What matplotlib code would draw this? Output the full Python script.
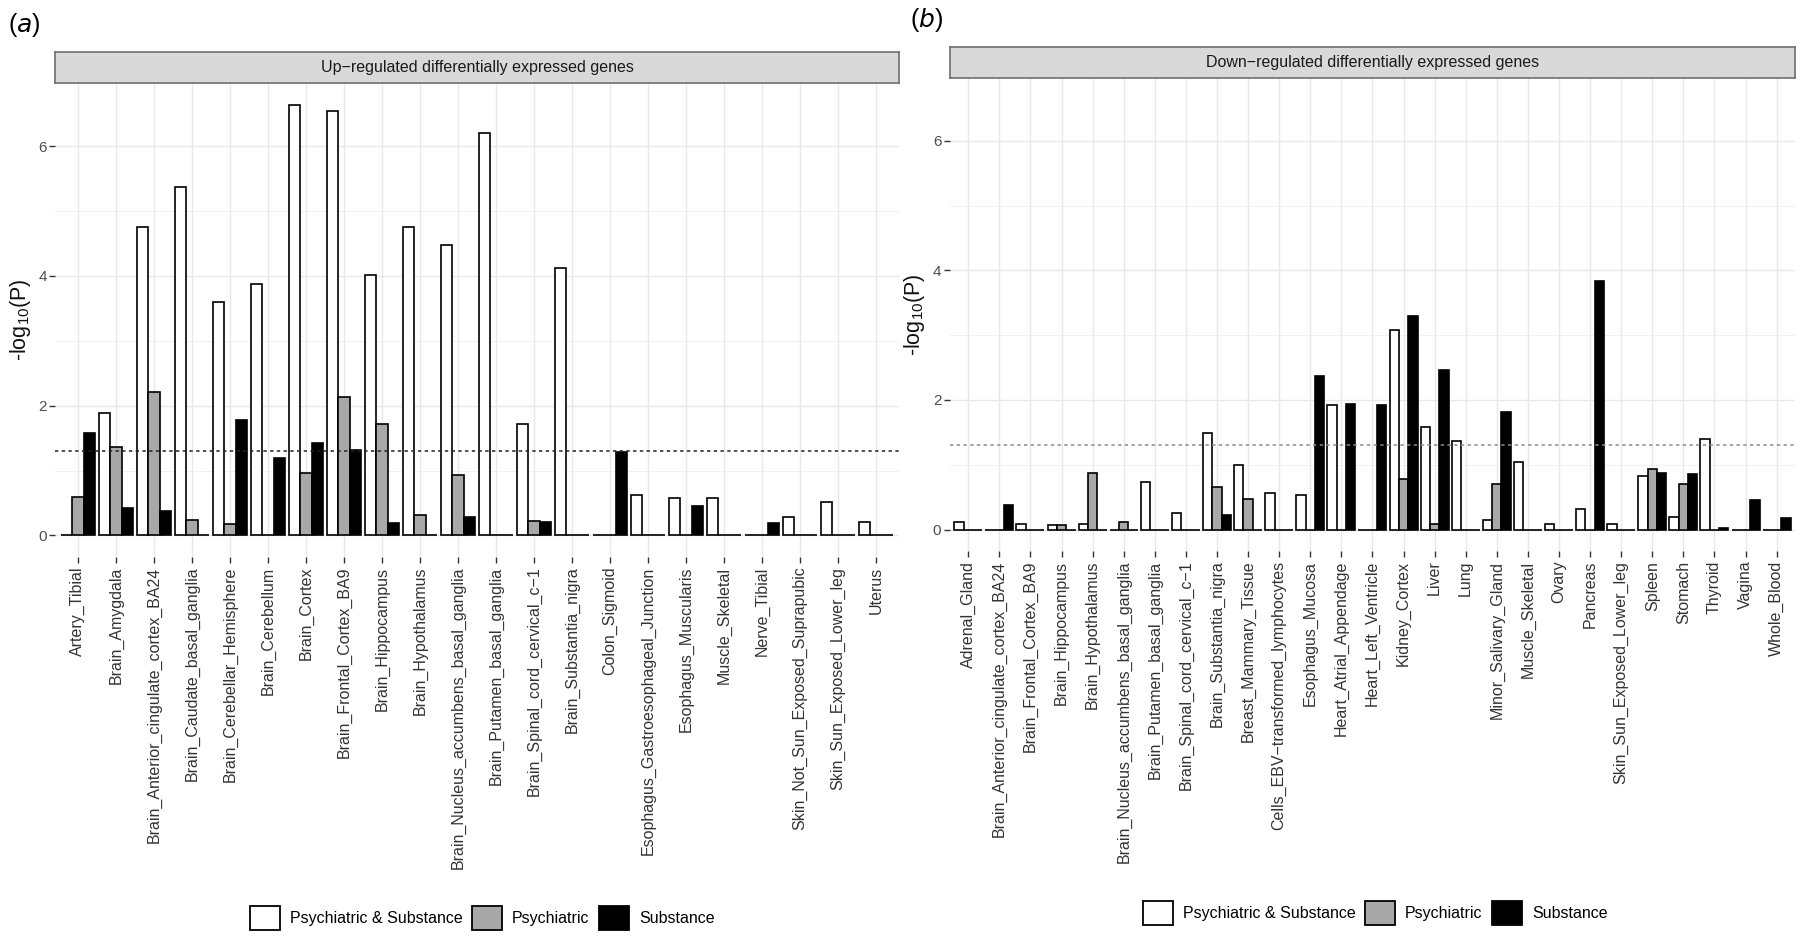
import numpy as np
import matplotlib
matplotlib.use('Agg')
import matplotlib.pyplot as plt
from matplotlib.patches import Patch

plt.rcParams['font.family'] = ['Liberation Sans', 'DejaVu Sans']
plt.rcParams['mathtext.default'] = 'regular'

# ---- data ----
up_tissues = ['Artery_Tibial', 'Brain_Amygdala', 'Brain_Anterior_cingulate_cortex_BA24',
              'Brain_Caudate_basal_ganglia', 'Brain_Cerebellar_Hemisphere', 'Brain_Cerebellum',
              'Brain_Cortex', 'Brain_Frontal_Cortex_BA9', 'Brain_Hippocampus',
              'Brain_Hypothalamus', 'Brain_Nucleus_accumbens_basal_ganglia',
              'Brain_Putamen_basal_ganglia', 'Brain_Spinal_cord_cervical_c\u22121',
              'Brain_Substantia_nigra', 'Colon_Sigmoid', 'Esophagus_Gastroesophageal_Junction',
              'Esophagus_Muscularis', 'Muscle_Skeletal', 'Nerve_Tibial',
              'Skin_Not_Sun_Exposed_Suprapubic', 'Skin_Sun_Exposed_Lower_leg', 'Uterus']
up_both = [0, 1.89, 4.76, 5.37, 3.59, 3.87, 6.64, 6.54, 4.02, 4.76, 4.48,
           6.20, 1.72, 4.12, 0, 0.62, 0.57, 0.58, 0, 0.29, 0.51, 0.21]
up_psych = [0.59, 1.36, 2.21, 0.24, 0.18, 0, 0.97, 2.14, 1.72, 0.32, 0.93,
            0, 0.22, 0, 0, 0, 0, 0, 0, 0, 0, 0]
up_subst = [1.58, 0.43, 0.38, 0, 1.78, 1.20, 1.43, 1.31, 0.19, 0, 0.28,
            0, 0.21, 0, 1.29, 0, 0.45, 0, 0.19, 0, 0, 0]

down_tissues = ['Adrenal_Gland', 'Brain_Anterior_cingulate_cortex_BA24', 'Brain_Frontal_Cortex_BA9',
                'Brain_Hippocampus', 'Brain_Hypothalamus', 'Brain_Nucleus_accumbens_basal_ganglia',
                'Brain_Putamen_basal_ganglia', 'Brain_Spinal_cord_cervical_c\u22121',
                'Brain_Substantia_nigra', 'Breast_Mammary_Tissue',
                'Cells_EBV\u2212transformed_lymphocytes', 'Esophagus_Mucosa',
                'Heart_Atrial_Appendage', 'Heart_Left_Ventricle', 'Kidney_Cortex', 'Liver', 'Lung',
                'Minor_Salivary_Gland', 'Muscle_Skeletal', 'Ovary', 'Pancreas',
                'Skin_Sun_Exposed_Lower_leg', 'Spleen', 'Stomach', 'Thyroid', 'Vagina', 'Whole_Blood']
down_both = [0.12, 0, 0.08, 0.07, 0.08, 0, 0.73, 0.25, 1.49, 0.99, 0.57, 0.53, 1.93, 0,
             3.08, 1.58, 1.36, 0.14, 1.04, 0.08, 0.32, 0.08, 0.83, 0.19, 1.40, 0, 0]
down_psych = [0, 0, 0, 0.07, 0.87, 0.12, 0, 0, 0.65, 0.47, 0, 0, 0, 0,
              0.78, 0.08, 0, 0.71, 0, 0, 0, 0, 0.94, 0.71, 0, 0, 0]
down_subst = [0, 0.38, 0, 0, 0, 0, 0, 0, 0.22, 0, 0, 2.37, 1.94, 1.93,
              3.29, 2.46, 0, 1.81, 0, 0, 3.83, 0, 0.87, 0.85, 0.02, 0.46, 0.17]

groups = ['Psychiatric & Substance', 'Psychiatric', 'Substance']
fills = {'Psychiatric & Substance': 'white', 'Psychiatric': '#a8a8a8', 'Substance': 'black'}
THRESH = -np.log10(0.05)
YMAX = max(up_both) * 1.05
YMIN = -max(up_both) * 0.05

W, H = 1800, 939
fig = plt.figure(figsize=(W / 100, H / 100), dpi=100)


def fx(px):
    return px / W


def fy(px):
    return 1 - px / H


def panel(left, right, top, bottom, strip_top, tissues, vals, strip_text, hline_color, tag, tag_x):
    ax = fig.add_axes([fx(left), fy(bottom), fx(right - left), fy(top) - fy(bottom)])
    x = np.arange(len(tissues))
    w = 0.3
    for i, g in enumerate(groups):
        ax.bar(x + (i - 1) * w, vals[i], w, color=fills[g], edgecolor='black',
               linewidth=1.2, zorder=3)
    ax.axhline(THRESH, ls=(0, (2.2, 2.2)), color=hline_color, lw=1.1, zorder=4)
    ax.set_xlim(-0.6, len(tissues) - 0.4)
    ax.set_ylim(YMIN, YMAX)
    ax.set_yticks([0, 2, 4, 6])
    ax.set_yticks([1, 3, 5], minor=True)
    ax.set_xticks(x)
    ax.set_xticklabels(tissues, rotation=90, fontsize=11.5, color='#333333')
    ax.tick_params(axis='y', which='major', labelsize=11, labelcolor='#4d4d4d',
                   length=4, width=1, color='#333333', pad=2)
    ax.tick_params(axis='y', which='minor', length=0)
    ax.tick_params(axis='x', length=4, width=1, color='#333333', pad=3)
    ax.grid(True, which='major', color='#e8e8e8', lw=1.0, zorder=0)
    ax.grid(True, which='minor', axis='y', color='#eeeeee', lw=0.6, zorder=0)
    ax.set_axisbelow(True)
    for s in ax.spines.values():
        s.set_visible(False)
    ax.set_ylabel(r'-log$_{10}$(P)', fontsize=15.5, color='#111111', labelpad=4)

    # facet strip on top
    sax = fig.add_axes([fx(left), fy(top), fx(right - left), fy(strip_top) - fy(top)])
    sax.set_facecolor('#d9d9d9')
    sax.set_xticks([])
    sax.set_yticks([])
    for s in sax.spines.values():
        s.set_color('#6e6e6e')
        s.set_linewidth(1.2)
    sax.text(0.5, 0.5, strip_text, ha='center', va='center', fontsize=11.5,
             color='#1a1a1a', transform=sax.transAxes)

    fig.text(fx(tag_x), fy(strip_top - 27), '(' + r'$\it{' + tag + '}$' + ')',
             fontsize=18, ha='left', va='center')

    handles = [Patch(facecolor=fills[g], edgecolor='black', linewidth=1.3, label=g) for g in groups]
    return ax, handles


axA, handles = panel(55, 899, 83, 557, 52, up_tissues, [up_both, up_psych, up_subst],
                     'Up\u2212regulated differentially expressed genes', '#222222', 'a', 8)
axB, _ = panel(949.6, 1795.3, 78, 551, 47, down_tissues, [down_both, down_psych, down_subst],
               'Down\u2212regulated differentially expressed genes', '#8a8a8a', 'b', 910)

for cx, cy in [(482, 918), (1375, 913)]:
    fig.legend(handles=handles, loc='center', bbox_to_anchor=(fx(cx), fy(cy)), ncol=3,
               frameon=False, fontsize=11.5, handlelength=1.9, handleheight=1.9,
               handletextpad=0.6, columnspacing=0.6, borderpad=0)

fig.savefig('out.png', dpi=100)
